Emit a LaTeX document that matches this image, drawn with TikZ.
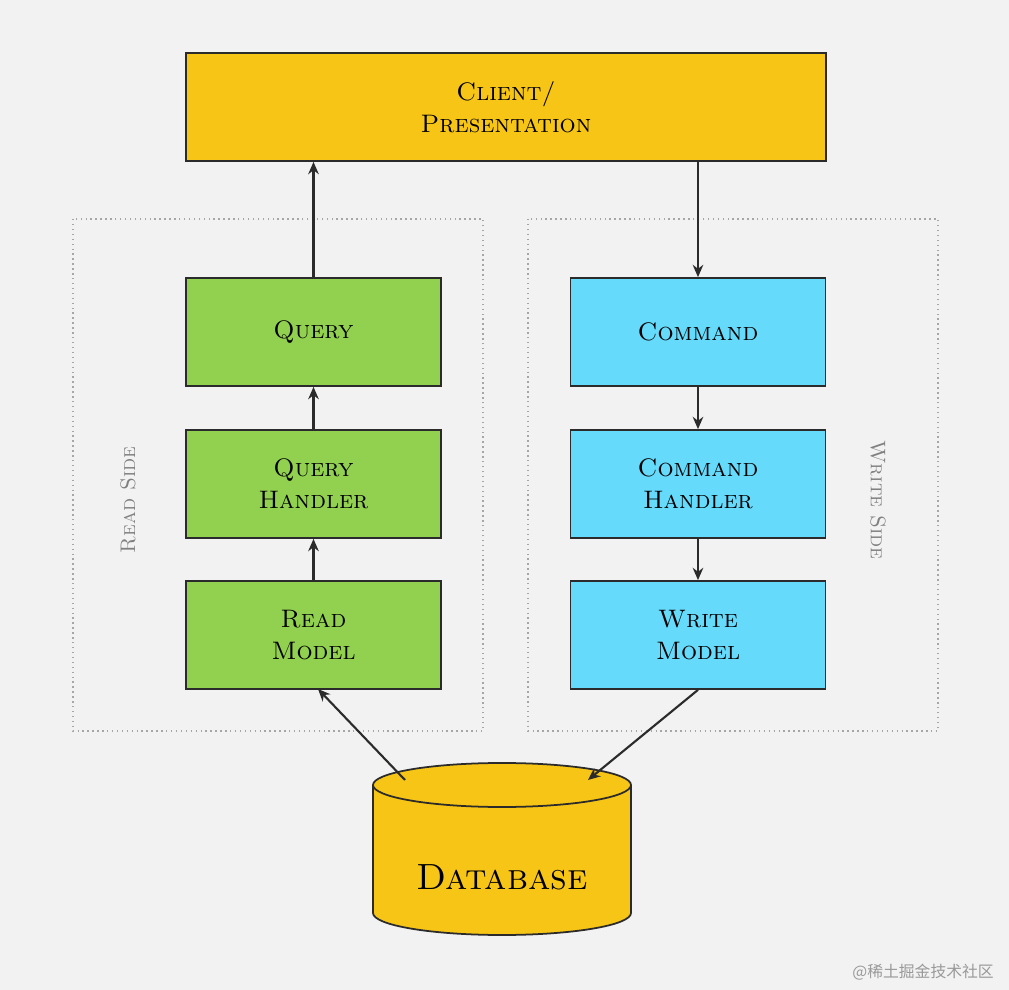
\documentclass[tikz,border=0pt]{standalone}
\usepackage{fontspec}
\newfontfamily\cjk{Noto Sans CJK SC}
\usetikzlibrary{arrows.meta}
\definecolor{bg}{HTML}{F2F2F2}
\definecolor{yel}{HTML}{F7C515}
\definecolor{grn}{HTML}{92D050}
\definecolor{blu}{HTML}{66DAFB}
\definecolor{ink}{HTML}{2B2B2B}
\begin{document}
\begin{tikzpicture}[x=0.02cm,y=-0.02cm,
 box/.style={draw=ink,line width=1pt,minimum width=255*0.02cm,minimum height=108*0.02cm,align=center,font=\Large\scshape,inner sep=0pt},
 arr/.style={draw=ink,line width=1.2pt,-{Stealth[length=7pt,width=6pt]}},
 side/.style={draw=gray!70,dotted,line width=0.8pt},
 sidelbl/.style={text=gray,font=\large\scshape}]
\fill[bg] (0,0) rectangle (1009,990);
\useasboundingbox (0,0) rectangle (1009,990);
\draw[side] (73,219) rectangle (483,731);
\draw[side] (528,219) rectangle (938,731);
\node[sidelbl,rotate=90] (rs) at (128,500) {Read Side};
\node[sidelbl,rotate=-90] (ws) at (878,500) {Write Side};
\node[box,fill=yel,minimum width=640*0.02cm] (client) at (506,107) {Client/\\Presentation};
\node[box,fill=grn] (q) at (313.5,332) {Query};
\node[box,fill=grn] (qh) at (313.5,484) {Query\\Handler};
\node[box,fill=grn] (rm) at (313.5,635) {Read\\Model};
\node[box,fill=blu] (c) at (698,332) {Command};
\node[box,fill=blu] (ch) at (698,484) {Command\\Handler};
\node[box,fill=blu] (wm) at (698,635) {Write\\Model};
% database cylinder
\fill[yel] (373,785) rectangle (631,913);
\fill[yel] (502,913) ellipse[x radius=129,y radius=22];
\draw[ink,line width=1pt] (373,785) -- (373,913) arc[start angle=180,end angle=0,x radius=129,y radius=22] -- (631,785);
\draw[ink,line width=1pt,fill=yel] (502,785) ellipse[x radius=129,y radius=22];
\node[font=\huge\scshape] (db) at (502,877) {Database};
\coordinate (dbl) at (405,780);
\coordinate (dbr) at (588,780);
\draw[arr] (q.north) -- (q.north |- client.south);
\draw[arr] (c.north |- client.south) -- (c.north);
\draw[arr] (qh) -- (q);
\draw[arr] (rm) -- (qh);
\draw[arr] (c) -- (ch);
\draw[arr] (ch) -- (wm);
\draw[arr] (dbl) -- (318,689);
\draw[arr] (wm.south) -- (dbr);
\node[text=gray!80,font=\cjk\small,anchor=east] (wmk) at (1000,972) {@稀土掘金技术社区};
\end{tikzpicture}
\end{document}
